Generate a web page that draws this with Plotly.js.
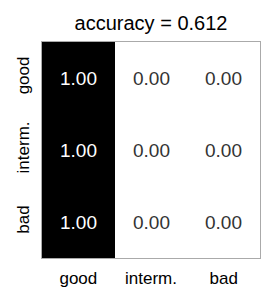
<!DOCTYPE html>
<html><head><meta charset="utf-8">
<script src="https://cdn.plot.ly/plotly-3.0.1.min.js"></script>
<style>html,body{margin:0;padding:0;background:#fff}</style>
</head><body><div id="chart" style="width:274px;height:301px"></div>
<script>
var predicted = ["good", "interm.", "bad"];
var actual = ["good", "interm.", "bad"];
var values = [
  [1.00, 0.00, 0.00],
  [1.00, 0.00, 0.00],
  [1.00, 0.00, 0.00]
];
var titleText = "accuracy = 0.612";

var FONT = "Liberation Sans, Arial, sans-serif";
var annotations = [];
for (var i = 0; i < actual.length; i++) {
  for (var j = 0; j < predicted.length; j++) {
    var v = values[i][j];
    annotations.push({
      x: predicted[j], y: actual[i], xref: "x", yref: "y",
      text: v.toFixed(2), showarrow: false,
      font: {family: FONT, size: 19, color: v > 0.5 ? "#ffffff" : "#333333"}
    });
  }
}

var trace = {
  type: "heatmap",
  x: predicted, y: actual, z: values,
  zmin: 0, zmax: 1,
  colorscale: [[0, "#ffffff"], [1, "#000000"]],
  showscale: false, hoverinfo: "none"
};

var layout = {
  width: 274, height: 301,
  margin: {l: 42, r: 14, t: 42, b: 43},
  paper_bgcolor: "#ffffff", plot_bgcolor: "#ffffff",
  font: {family: FONT, color: "#000000"},
  title: {text: titleText, xref: "paper", x: 0.5, xanchor: "center", y: 0.925, yanchor: "middle",
          font: {family: FONT, size: 20, color: "#000000"}},
  xaxis: {type: "category", categoryarray: predicted, showline: true, mirror: true,
          linecolor: "#aaaaaa", linewidth: 1, ticks: "", showgrid: false, zeroline: false,
          tickfont: {family: FONT, size: 17, color: "#000000"}, ticklabelstandoff: 5},
  yaxis: {type: "category", categoryarray: actual, autorange: "reversed", showline: true, mirror: true,
          linecolor: "#aaaaaa", linewidth: 1, ticks: "", showgrid: false, zeroline: false,
          tickangle: -90, tickfont: {family: FONT, size: 17, color: "#000000"}, ticklabelstandoff: 5},
  annotations: annotations
};

Plotly.newPlot("chart", [trace], layout, {displayModeBar: false, staticPlot: true});
</script></body></html>
